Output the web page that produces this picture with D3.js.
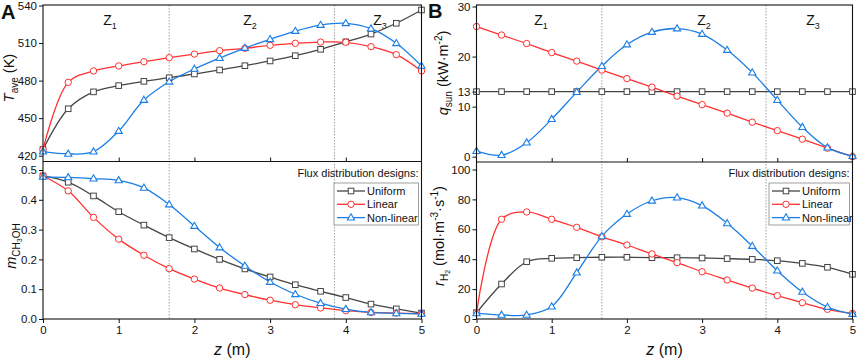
<!DOCTYPE html>
<html><head><meta charset="utf-8">
<script src="https://cdn.jsdelivr.net/npm/d3@7"></script>
<style>
html,body{margin:0;padding:0;background:#fff;}
svg{display:block;font-family:"Liberation Sans",Arial,sans-serif;}
</style></head>
<body><svg id="c" width="858" height="359"></svg>
<script>
const zVals = [0, 0.333, 0.667, 1, 1.333, 1.667, 2, 2.333, 2.667, 3, 3.333, 3.667, 4, 4.333, 4.667, 5];
const seriesNames = ["Uniform", "Linear", "Non-linear"];
const zoneBounds = [1.667, 3.85];
const xTicks = [0, 1, 2, 3, 4, 5];

const tAveUniform = [425, 457.5, 471, 476, 479.4, 482.3, 485.3, 488.5, 491.9, 495.7, 499.9, 505, 511, 517.2, 525.8, 536.4];
const tAveLinear  = [425, 478.6, 487.7, 491.7, 495.1, 498.3, 501.2, 503.9, 505.8, 508.2, 509.8, 510.8, 510.6, 507.1, 500.7, 487.7];
const tAveNonlin  = [423.2, 421.4, 423.2, 439.7, 464.5, 479.1, 489.3, 498, 506, 513, 519.6, 524.4, 525.8, 521.5, 509.8, 491.7];
const tAveTicks = [420, 450, 480, 510, 540];

const mUniform = [0.48, 0.459, 0.413, 0.36, 0.315, 0.273, 0.235, 0.2, 0.168, 0.141, 0.115, 0.093, 0.072, 0.05, 0.034, 0.02];
const mLinear  = [0.48, 0.43, 0.341, 0.268, 0.214, 0.169, 0.134, 0.104, 0.082, 0.063, 0.048, 0.037, 0.028, 0.022, 0.02, 0.018];
const mNonlin  = [0.477, 0.475, 0.471, 0.465, 0.44, 0.384, 0.312, 0.24, 0.178, 0.124, 0.083, 0.053, 0.033, 0.022, 0.019, 0.017];
const mTicks = [0, 0.1, 0.2, 0.3, 0.4, 0.5];

const qUniform = [13, 13, 13, 13, 13, 13, 13, 13, 13, 13, 13, 13, 13, 13, 13, 13];
const qLinear  = [26, 24.3, 22.6, 20.8, 19.1, 17.3, 15.6, 13.9, 12.1, 10.4, 8.7, 6.9, 5.2, 3.5, 1.7, 0];
const qNonlin  = [1.1, 0.3, 2.8, 7.5, 12.9, 18.1, 22.4, 24.9, 25.6, 24.5, 21.3, 16.8, 11.3, 5.9, 1.8, 0.1];
const qTicks = [0, 10, 13, 20, 30];

const rUniform = [4.2, 23.4, 38.3, 40.6, 41, 41.3, 41.3, 41, 41, 40.8, 40.4, 39.9, 39, 37.2, 34.6, 29.9];
const rLinear  = [4.2, 66.7, 71.6, 66.7, 61.3, 55, 49.5, 43.5, 37.7, 31.6, 26.1, 20.7, 15.6, 10.9, 6.5, 3.8];
const rNonlin  = [3.8, 2.7, 2.7, 8.3, 31, 55.3, 70.2, 79.1, 81.2, 75.8, 64, 48.8, 32.3, 18.1, 8, 3.3];
const rTicks = [0, 20, 40, 60, 80, 100];

const colors = ["#454545", "#ff3030", "#1a7ee6"];
const markers = ["square", "circle", "triangle"];

const svg = d3.select("#c");
const FONT = "\"Liberation Sans\", Arial, sans-serif";

function marker(g, type, x, y, color) {
  if (type === "square") {
    g.append("rect").attr("x", x - 2.8).attr("y", y - 2.8).attr("width", 5.6).attr("height", 5.6)
      .attr("fill", "#fff").attr("stroke", color).attr("stroke-width", 1);
  } else if (type === "circle") {
    g.append("circle").attr("cx", x).attr("cy", y).attr("r", 3.2)
      .attr("fill", "#fff").attr("stroke", color).attr("stroke-width", 1);
  } else {
    const s = 3.8;
    g.append("path").attr("d", `M${x},${y - s}L${x + s * 0.95},${y + s * 0.62}L${x - s * 0.95},${y + s * 0.62}Z`)
      .attr("fill", "#fff").attr("stroke", color).attr("stroke-width", 1.1);
  }
}

function panel(opts) {
  const { x0, x1, top, mid, bottom } = opts;
  const x = d3.scaleLinear().domain([0, 5]).range([x0, x1]);
  const g = svg.append("g");
  const yTop = d3.scaleLinear().domain(opts.topDom).range(opts.topRange);
  const yBot = d3.scaleLinear().domain(opts.botDom).range(opts.botRange);

  zoneBounds.forEach(zb => {
    g.append("line").attr("x1", x(zb)).attr("x2", x(zb)).attr("y1", top).attr("y2", bottom)
      .attr("stroke", "#8a8a8a").attr("stroke-width", 0.8).attr("stroke-dasharray", "1.5,1.5");
  });

  opts.zoneX.forEach((zx, i) => {
    const t = g.append("text").attr("x", zx).attr("y", 25).attr("text-anchor", "middle")
      .attr("font-size", 14).attr("fill", "#111");
    t.append("tspan").text("Z");
    t.append("tspan").attr("font-size", 9).attr("dy", 4).text(String(i + 1));
  });

  function drawSeries(yScale, arrays) {
    const line = d3.line().x((d, i) => x(zVals[i])).y(d => yScale(d)).curve(d3.curveCatmullRom.alpha(0.5));
    arrays.forEach((arr, si) => {
      g.append("path").attr("d", line(arr)).attr("fill", "none").attr("stroke", colors[si]).attr("stroke-width", 1.3);
    });
    arrays.forEach((arr, si) => {
      const mg = g.append("g");
      arr.forEach((v, i) => marker(mg, markers[si], x(zVals[i]), yScale(v), colors[si]));
    });
  }
  drawSeries(yTop, opts.topData);
  drawSeries(yBot, opts.botData);

  g.append("rect").attr("x", x0).attr("y", top).attr("width", x1 - x0).attr("height", bottom - top)
    .attr("fill", "none").attr("stroke", "#111").attr("stroke-width", 1.1);
  g.append("line").attr("x1", x0).attr("x2", x1).attr("y1", mid).attr("y2", mid)
    .attr("stroke", "#111").attr("stroke-width", 1.1);

  const axT = d3.axisLeft(yTop).tickValues(opts.topTicks).tickSize(4).tickPadding(2).tickFormat(opts.topFmt);
  const axB = d3.axisLeft(yBot).tickValues(opts.botTicks).tickSize(4).tickPadding(2).tickFormat(opts.botFmt);
  [axT, axB].forEach(ax => {
    const a = g.append("g").attr("transform", `translate(${x0},0)`).call(ax);
    a.select(".domain").remove();
    a.selectAll("line").attr("stroke", "#111");
    a.selectAll("text").attr("font-size", 11.5).attr("font-family", FONT).attr("fill", "#111");
  });
  const ax = g.append("g").attr("transform", `translate(0,${bottom})`)
    .call(d3.axisBottom(x).tickValues(xTicks).tickSize(4).tickPadding(3).tickFormat(d3.format("d")));
  ax.select(".domain").remove();
  ax.selectAll("line").attr("stroke", "#111");
  ax.selectAll("text").attr("font-size", 11.5).attr("font-family", FONT).attr("fill", "#111");
  const axM = g.append("g").attr("transform", `translate(0,${mid})`)
    .call(d3.axisTop(x).tickValues([1, 2, 3, 4]).tickSize(4).tickFormat(""));
  axM.select(".domain").remove();
  axM.selectAll("line").attr("stroke", "#111");

  const xt = g.append("text").attr("x", (x0 + x1) / 2).attr("y", 355).attr("text-anchor", "middle")
    .attr("font-size", 16).attr("fill", "#111");
  xt.append("tspan").attr("font-style", "italic").text("z");
  xt.append("tspan").text(" (m)");

  const lg = g.append("g");
  lg.append("text").attr("x", x1 - 3).attr("y", 177).attr("text-anchor", "end").attr("font-size", 11).attr("fill", "#111")
    .text("Flux distribution designs:");
  const bx = opts.legX;
  lg.append("rect").attr("x", bx).attr("y", 183).attr("width", x1 - 3 - bx).attr("height", 42)
    .attr("fill", "#fff").attr("stroke", "#888").attr("stroke-width", 0.8);
  seriesNames.forEach((n, i) => {
    const yy = 191 + i * 13.3;
    lg.append("line").attr("x1", bx + 3).attr("x2", bx + 31).attr("y1", yy).attr("y2", yy)
      .attr("stroke", colors[i]).attr("stroke-width", 1.3);
    marker(lg, markers[i], bx + 17, yy, colors[i]);
    lg.append("text").attr("x", bx + 33).attr("y", yy + 4).attr("font-size", 11).attr("fill", "#111").text(n);
  });
  return g;
}

panel({
  x0: 43, x1: 421.5, top: 5, mid: 161.5, bottom: 319,
  topDom: [420, 540], topRange: [155.7, 5.5],
  botDom: [0, 0.5], botRange: [319, 170],
  topTicks: tAveTicks, botTicks: mTicks,
  topFmt: d3.format("d"), botFmt: d3.format(".1f"),
  topData: [tAveUniform, tAveLinear, tAveNonlin],
  botData: [mUniform, mLinear, mNonlin],
  zoneX: [110, 250, 380], legX: 334
});
panel({
  x0: 476.5, x1: 852.5, top: 5, mid: 162, bottom: 319,
  topDom: [0, 30], topRange: [156.7, 6.5],
  botDom: [0, 100], botRange: [319, 169.5],
  topTicks: qTicks, botTicks: rTicks,
  topFmt: d3.format("d"), botFmt: d3.format("d"),
  topData: [qUniform, qLinear, qNonlin],
  botData: [rUniform, rLinear, rNonlin],
  zoneX: [541, 704, 813], legX: 769
});

svg.append("text").attr("x", 1).attr("y", 19).attr("font-size", 20).attr("font-weight", "bold").attr("fill", "#111").text("A");
svg.append("text").attr("x", 428).attr("y", 18).attr("font-size", 20).attr("font-weight", "bold").attr("fill", "#111").text("B");

function ytitle(cx, cy, build) {
  const t = svg.append("text").attr("transform", `translate(${cx},${cy}) rotate(-90)`)
    .attr("text-anchor", "middle").attr("font-size", 14.5).attr("fill", "#111");
  build(t);
}
ytitle(14, 78, t => {
  t.append("tspan").attr("font-style", "italic").text("T");
  t.append("tspan").attr("font-size", 10).attr("dy", 4).text("ave");
  t.append("tspan").attr("dy", -4).text(" (K)");
});
ytitle(16, 246, t => {
  t.append("tspan").attr("font-style", "italic").text("m");
  t.append("tspan").attr("font-size", 10).attr("dy", 4).text("CH");
  t.append("tspan").attr("font-size", 7).attr("dy", 2).text("3");
  t.append("tspan").attr("font-size", 10).attr("dy", -2).text("OH");
});
ytitle(448, 73, t => {
  t.append("tspan").attr("font-style", "italic").text("q");
  t.append("tspan").attr("font-size", 10).attr("dy", 4).text("sun");
  t.append("tspan").attr("dy", -4).text(" (kW·m");
  t.append("tspan").attr("font-size", 10).attr("dy", -6).text("-2");
  t.append("tspan").attr("dy", 6).text(")");
});
ytitle(444, 236, t => {
  t.append("tspan").attr("font-style", "italic").text("r");
  t.append("tspan").attr("font-size", 10).attr("dy", 4).text("H");
  t.append("tspan").attr("font-size", 7).attr("dy", 2).text("2");
  t.append("tspan").attr("dy", -6).text(" (mol·m");
  t.append("tspan").attr("font-size", 10).attr("dy", -6).text("-3");
  t.append("tspan").attr("dy", 6).text("·s");
  t.append("tspan").attr("font-size", 10).attr("dy", -6).text("-1");
  t.append("tspan").attr("dy", 6).text(")");
});
</script></body></html>
